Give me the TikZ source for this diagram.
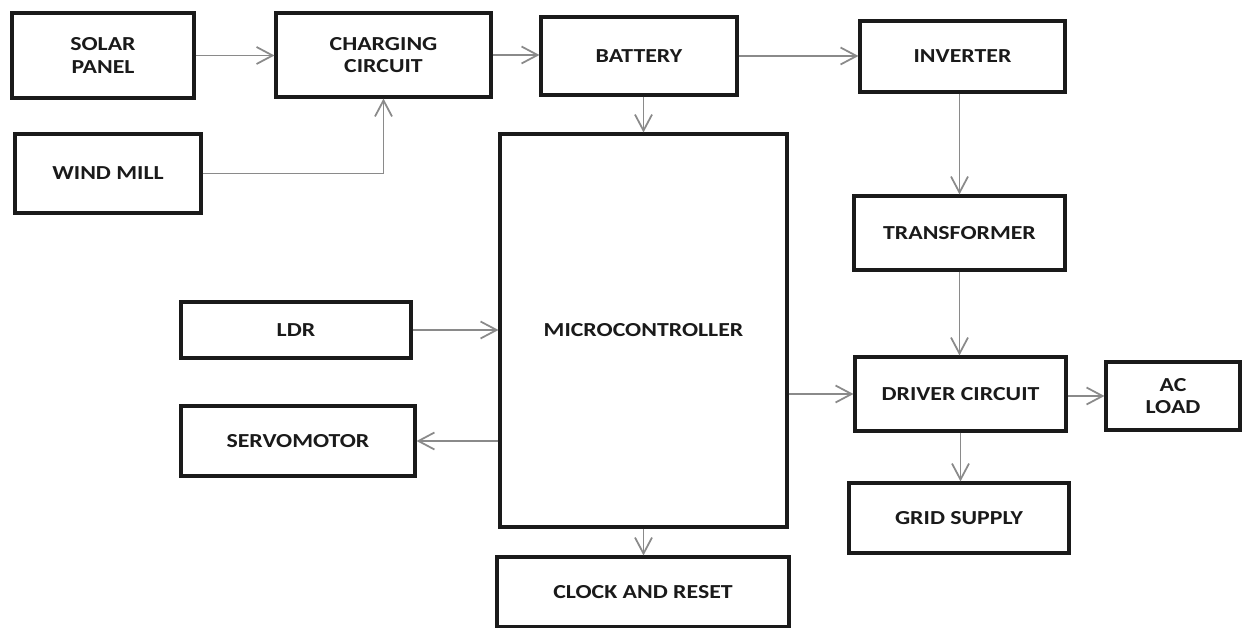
\documentclass[tikz,border=0pt]{standalone}
\usepackage{fontspec}
\setmainfont{Carlito}[FakeStretch=1.2]
\usepackage{tikz}
\usetikzlibrary{arrows.meta,positioning,calc}
\definecolor{Ink}{HTML}{1A1A1A}
\definecolor{Wire}{HTML}{8A8A8A}
\tikzset{
  box/.style={draw=Ink,fill=white,line width=1.8pt,align=center,inner sep=0pt,font=\fontsize{11.3}{12.6}\selectfont\bfseries,text=Ink},
  flow/.style={-{Straight Barb[length=3.2mm,width=3.4mm,line width=1pt]},draw=Wire,line width=1.1pt}
}
\begin{document}
\begin{tikzpicture}[x=0.02cm,y=-0.02cm]
        \useasboundingbox (0,0) rectangle (1242,628);
        % sources
        \node[box,minimum width=3.64cm,minimum height=1.70cm] (solar) at (103,55.5) {SOLAR\\PANEL};
        \node[box,minimum width=3.72cm,minimum height=1.58cm] (wind) at (108,173.5) {WIND MILL};
        \node[box,minimum width=4.30cm,minimum height=1.68cm] (charging) at (383.5,55) {CHARGING\\CIRCUIT};
        \node[box,minimum width=3.92cm,minimum height=1.56cm] (battery) at (639,56) {BATTERY};
        \node[box,minimum width=4.10cm,minimum height=1.42cm] (inverter) at (962.5,56.5) {INVERTER};
        % control side
        \node[box,minimum width=5.74cm,minimum height=7.86cm] (micro) at (643.5,330.5) {MICROCONTROLLER};
        \node[box,minimum width=4.60cm,minimum height=1.12cm] (ldr) at (296,330) {LDR};
        \node[box,minimum width=4.68cm,minimum height=1.40cm] (servo) at (298,441) {SERVOMOTOR};
        \node[box,minimum width=5.84cm,minimum height=1.40cm] (clock) at (643,592) {CLOCK AND RESET};
        % output side
        \node[box,minimum width=4.22cm,minimum height=1.48cm] (transformer) at (959.5,233) {TRANSFORMER};
        \node[box,minimum width=4.22cm,minimum height=1.48cm] (driver) at (960.5,394) {DRIVER CIRCUIT};
        \node[box,minimum width=2.68cm,minimum height=1.36cm] (acload) at (1173,396) {AC\\LOAD};
        \node[box,minimum width=4.40cm,minimum height=1.40cm] (grid) at (959,518) {GRID SUPPLY};

        \draw[flow] (solar.east) -- (solar.east -| charging.west);
        \draw[flow] (wind.east) -| (charging.south);
        \draw[flow] (charging.east) -- (charging.east -| battery.west);
        \draw[flow] (battery.east) -- (battery.east -| inverter.west);
        \draw[flow] (micro.north |- battery.south) -- (micro.north);
        \draw[flow] (transformer.north |- inverter.south) -- (transformer.north);
        \draw[flow] (transformer.south) -- (transformer.south |- driver.north);
        \draw[flow] (micro.east |- driver.west) -- (driver.west);
        \draw[flow] (driver.east |- acload.west) -- (acload.west);
        \draw[flow] (driver.south) -- (driver.south |- grid.north);
        \draw[flow] (ldr.east) -- (ldr.east -| micro.west);
        \draw[flow] (micro.west |- servo.east) -- (servo.east);
        \draw[flow] (micro.south) -- (micro.south |- clock.north);
      \end{tikzpicture}
\end{document}
